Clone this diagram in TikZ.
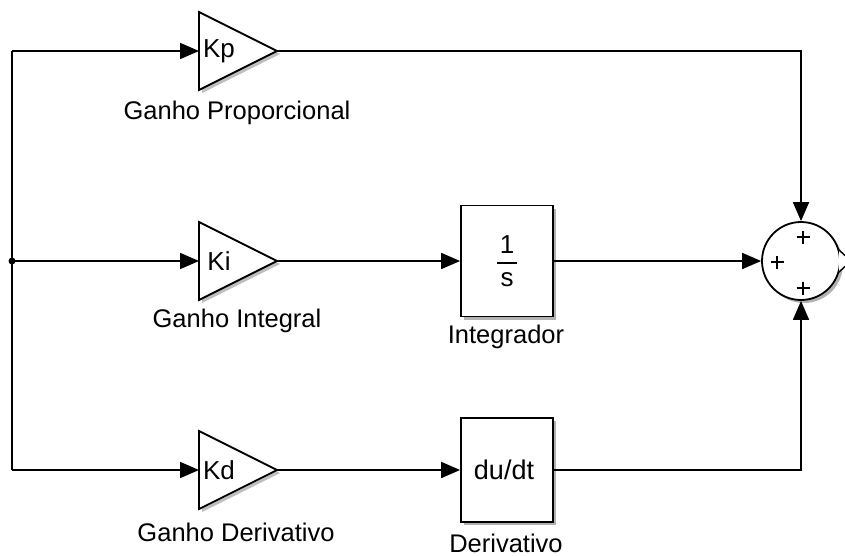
\documentclass[tikz,border=0pt]{standalone}
\usepackage{fontspec}
\setmainfont{Liberation Sans}
\usetikzlibrary{arrows.meta,calc,shadows}
\begin{document}
\begin{tikzpicture}[x=1pt,y=-1pt,line width=1.8pt,
  sig/.style={-{Triangle[length=19pt,width=16pt]}},
  lbl/.style={font=\fontsize{25.5}{30}\selectfont,inner sep=0pt},
  gtxt/.style={font=\fontsize{26}{30}\selectfont,inner sep=0pt},
  blk/.style={draw,fill=white,minimum width=92pt,inner sep=0pt,
    drop shadow={shadow xshift=3pt,shadow yshift=-3pt,opacity=0.3,fill=black}},
  shade/.style={fill=black,opacity=0.25,draw=none}]
\useasboundingbox (0,0) rectangle (845,556);
\clip (0,0) rectangle (845,556);

% gain triangles: left edge, top, bottom and tip
\foreach \n/\yc in {kp/51,ki/261,kd/470}{
  \fill[shade] (202,\yc-36) -- (280,\yc+3) -- (202,\yc+42) -- cycle;
  \draw[fill=white,line join=miter] (199,\yc-39) -- (277,\yc) -- (199,\yc+39) -- cycle;
  \coordinate (\n-in) at (199,\yc);
  \coordinate (\n-out) at (277,\yc);
}
\node[gtxt] at (219,51) {Kp};
\node[gtxt] at (219,261) {Ki};
\node[gtxt] at (219,470) {Kd};
\node[lbl] at (237,113) {Ganho Proporcional};
\node[lbl] at (237,321) {Ganho Integral};
\node[lbl] at (236,532) {Ganho Derivativo};

% integrator and derivative blocks
\node[blk,minimum height=111pt] (int) at (507,261) {};
\node[font=\fontsize{26}{26}\selectfont,inner sep=0pt] (one) at (507,245) {1};
\node[font=\fontsize{26}{26}\selectfont,inner sep=0pt] (ess) at (507,280) {s};
\draw[line width=1.4pt] ($(one)+(-10,18)$) -- ($(one)+(10,18)$);
\node[lbl] at (506,337) {Integrador};

\node[blk,minimum height=104pt] (der) at (507,470) {};
\node[font=\fontsize{27}{27}\selectfont,inner sep=0pt] at (504,470) {du/dt};
\node[lbl] at (506,543) {Derivativo};

% summing junction with its output port
\node[draw,circle,fill=white,minimum size=78pt,inner sep=0pt,
  drop shadow={shadow xshift=3pt,shadow yshift=-3pt,opacity=0.3,fill=black}] (sum) at (801,261) {};
\foreach \px/\py in {803/237,777/262,803/288}
  \draw[line width=1.5pt] (\px-6.5,\py) -- (\px+6.5,\py) (\px,\py-6.5) -- (\px,\py+6.5);
\draw[line width=1.4pt,fill=white] (839,250) -- (851,261) -- (839,272);

% input bus
\coordinate (bt) at (12,51);
\coordinate (bm) at (12,261);
\coordinate (bb) at (12,470);
\draw (bt) -- (bb);
\fill (bm) circle (3.5pt);
\draw[sig] (bt) -- (kp-in);
\draw[sig] (bm) -- (ki-in);
\draw[sig] (bb) -- (kd-in);

% signal paths into the sum
\draw[sig] (kp-out) -| (sum.north);
\draw[sig] (ki-out) -- (int.west);
\draw[sig] (int.east) -- (sum.west);
\draw[sig] (kd-out) -- (der.west);
\draw[sig] (der.east) -| (sum.south);
\end{tikzpicture}
\end{document}
